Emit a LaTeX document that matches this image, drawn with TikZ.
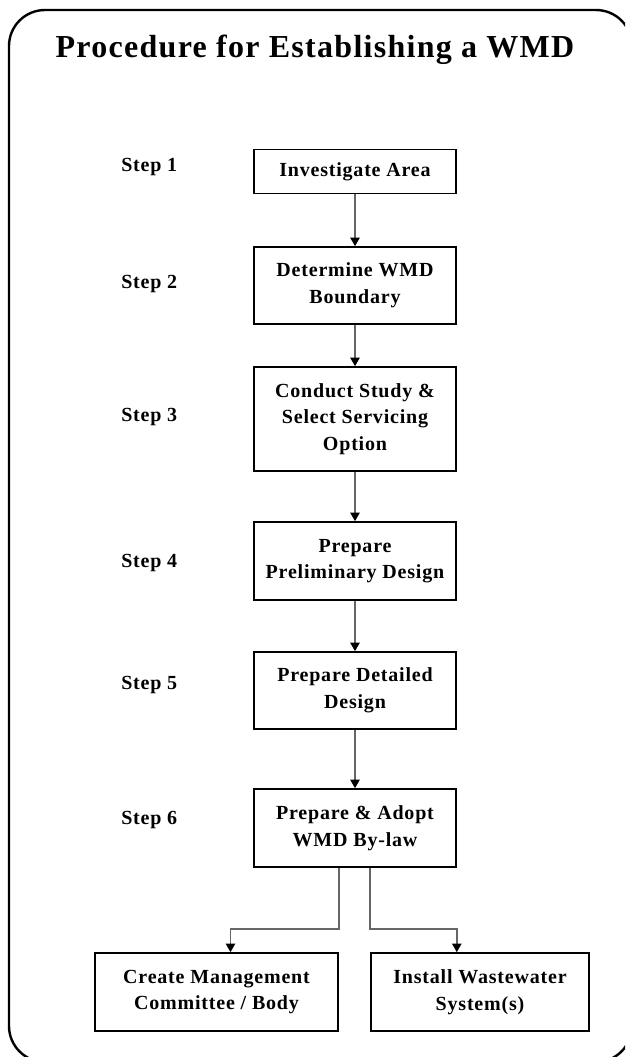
\documentclass[tikz,border=0pt]{standalone}
\usepackage{fontspec}
\setmainfont{Liberation Serif}
\newfontfamily\wmdfont[LetterSpace=4]{Liberation Serif}
\usepackage{tikz}
\usetikzlibrary{arrows.meta, calc, positioning}

\begin{document}
\begin{tikzpicture}[
  x=0.75pt, y=-0.75pt,
  font=\wmdfont\bfseries\fontsize{15}{20}\selectfont,
  stepbox/.style={draw, line width=1.2pt, fill=white, minimum width=151.5pt,
                  align=center, inner sep=2pt},
  steplbl/.style={anchor=base west, inner sep=0pt},
  arr/.style={-{Triangle[length=6.5pt, width=7pt, color=black]},
              draw=black!60, line width=1.3pt},
  frame/.style={draw, line width=1.8pt, rounded corners=27pt}
]
\useasboundingbox (0,0) rectangle (625,1057);

%% ——— Marco ———
\begin{scope}
  \clip (0,0) rectangle (625,1057);
  \draw[frame] (9,10) rectangle (632,1062);
\end{scope}

%% ——— Titulo ———
\node[font=\wmdfont\bfseries\fontsize{24}{28}\selectfont] (title) at (315,50)
  {Procedure for Establishing a WMD};

%% ——— Etiquetas de pasos ———
\node[steplbl] (s1) at (121,171) {Step 1};
\node[steplbl] (s2) at (121,288) {Step 2};
\node[steplbl] (s3) at (121,421) {Step 3};
\node[steplbl] (s4) at (121,567) {Step 4};
\node[steplbl] (s5) at (121,689) {Step 5};
\node[steplbl] (s6) at (121,824) {Step 6};

%% ——— Cajas de pasos ———
\node[stepbox, minimum height=33pt]   (b1) at (355,171.5) {Investigate Area};
\node[stepbox, minimum height=57.75pt] (b2) at (355,285.5) {Determine WMD\\Boundary};
\node[stepbox, minimum height=78pt]   (b3) at (355,419)   {Conduct Study \&\\Select Servicing\\Option};
\node[stepbox, minimum height=58.5pt] (b4) at (355,561)   {Prepare\\Preliminary Design};
\node[stepbox, minimum height=57.75pt] (b5) at (355,690.5) {Prepare Detailed\\Design};
\node[stepbox, minimum height=58.5pt] (b6) at (355,828)   {Prepare \& Adopt\\WMD By-law};

%% ——— Cajas finales ———
\node[stepbox, minimum width=182.25pt, minimum height=58.5pt] (mgmt) at (216.5,992)
  {Create Management\\Committee / Body};
\node[stepbox, minimum width=163.5pt, minimum height=58.5pt] (install) at (480,992)
  {Install Wastewater\\System(s)};

%% ——— Flechas verticales ———
\draw[arr] (b1.south) -- (b2.north);
\draw[arr] (b2.south) -- (b3.north);
\draw[arr] (b3.south) -- (b4.north);
\draw[arr] (b4.south) -- (b5.north);
\draw[arr] (b5.south) -- (b6.north);

%% ——— Ramas ———
\draw[arr] (b6.south -| mgmt.east) -- ++(0,61) -| ([xshift=10.5pt]mgmt.north);
\draw[arr] (b6.south -| install.west) -- ++(0,61) -| (install.north -| b6.east);

\end{tikzpicture}
\end{document}
